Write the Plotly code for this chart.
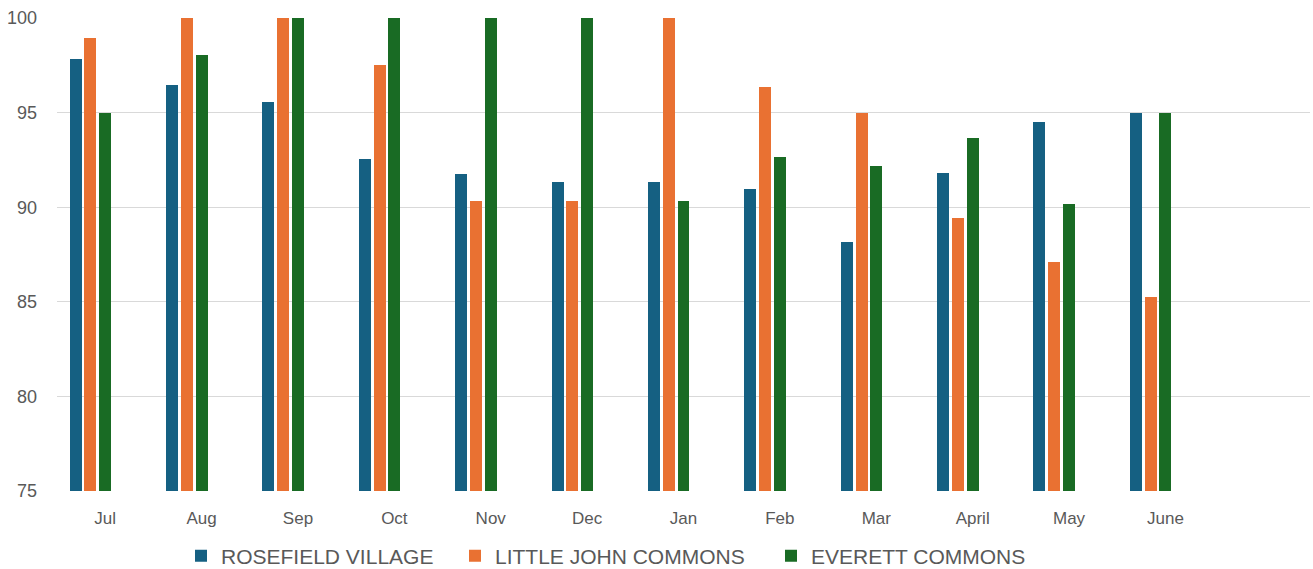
import plotly.graph_objects as go

months = ["Jul", "Aug", "Sep", "Oct", "Nov", "Dec", "Jan", "Feb", "Mar", "April", "May", "June"]
rosefield = [97.83, 96.46, 95.56, 92.55, 91.75, 91.33, 91.33, 90.96, 88.14, 91.79, 94.5, 95.0]
little_john = [98.94, 100, 100, 97.52, 90.33, 90.33, 100, 96.35, 95.0, 89.45, 87.09, 85.25]
everett = [95.0, 98.04, 100, 100, 100, 100, 90.33, 92.65, 92.19, 93.65, 90.15, 95.0]

series = [
    ("ROSEFIELD VILLAGE", rosefield, "#156082", -0.369, "legend", 223),
    ("LITTLE JOHN COMMONS", little_john, "#E97132", -0.215, "legend2", 497),
    ("EVERETT COMMONS", everett, "#196B24", -0.062, "legend3", 813),
]

fig = go.Figure()
for name, vals, color, off, leg, _ in series:
    fig.add_trace(go.Bar(
        x=months, y=vals, name=name,
        marker=dict(color=color, line=dict(width=0)),
        offset=off, width=0.124, legend=leg, showlegend=True,
    ))

W, H = 1313, 569
legend_common = dict(
    orientation="h", xref="container", yref="container",
    xanchor="left", yanchor="middle", y=(H - 556) / H,
    font=dict(size=21, color="#595959"), bgcolor="rgba(0,0,0,0)",
)
legends = {}
for name, vals, color, off, leg, text_x in series:
    legends[leg] = dict(legend_common, x=(text_x - 42) / W)

fig.update_layout(
    showlegend=True,
    barmode="overlay",
    width=W, height=H,
    margin=dict(l=57, r=3, t=18, b=78, autoexpand=False),
    plot_bgcolor="white", paper_bgcolor="white",
    font=dict(family="Liberation Sans, Arial, sans-serif", color="#595959", size=16),
    xaxis=dict(
        type="category", range=[-0.5, 12.5], automargin=False,
        showgrid=False, showline=False, ticks="",
        tickfont=dict(size=17, color="#595959"),
        ticklabelstandoff=15,
    ),
    yaxis=dict(
        range=[75, 100], tickvals=[75, 80, 85, 90, 95, 100], automargin=False,
        showgrid=True, gridcolor="#D9D9D9", gridwidth=1,
        zeroline=False, showline=False, ticks="",
        tickfont=dict(size=18, color="#595959"),
        ticklabelstandoff=19,
    ),
    bargap=0,
    **legends,
)

fig.write_html("out.html")
